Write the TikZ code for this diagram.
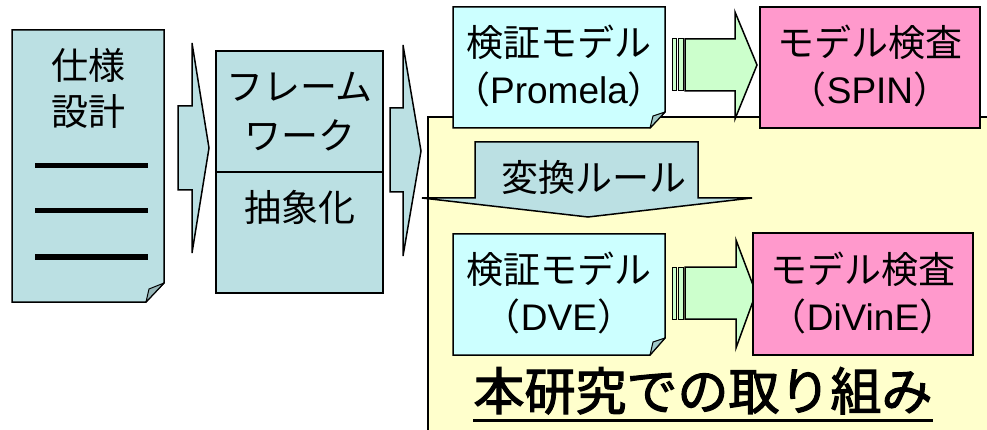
\documentclass[tikz,border=0pt]{standalone}
\usepackage{fontspec}
\setmainfont{Liberation Sans}
\newfontfamily\jp{Noto Sans CJK JP}
\newfontfamily\jpfb{Noto Sans CJK JP}[FakeBold=2.2]
\definecolor{docblue}{RGB}{187,224,227}
\definecolor{docfold}{RGB}{150,182,184}
\definecolor{cyanbox}{RGB}{204,255,255}
\definecolor{cyanfold}{RGB}{160,200,200}
\definecolor{pinkbox}{RGB}{255,153,204}
\definecolor{greenarr}{RGB}{204,255,204}
\definecolor{yellowbg}{RGB}{255,255,204}
\begin{document}
\begin{tikzpicture}[x=1pt,y=-1pt,
  shp/.style={draw=black,line width=1.5pt,line join=miter},
  flap/.style={draw=black,line width=1pt,line join=round},
  stripe/.style={draw=black,line width=1pt,fill=greenarr},
  jtxt/.style={anchor=base,inner sep=0pt,font=\jp\fontsize{37}{37}\selectfont},
  ltxt/.style={anchor=base,inner sep=0pt,font=\fontsize{37}{37}\selectfont},
]
\useasboundingbox (0,0) rectangle (987,430);
\clip (0,0) rectangle (987,430);
% background region
\draw[fill=yellowbg,draw=black,line width=1.2pt] (428,117) rectangle (1000,445);
% specification document
\draw[shp,fill=docblue] (12,30) -- (164,30) -- (164,283) -- (146,302) -- (12,302) -- cycle;
\draw[flap,fill=docfold] (164,283) -- (149,289) -- (146,302) -- cycle;
\draw[line width=5pt] (35,166) -- (148,166);
\draw[line width=5pt] (35,211) -- (148,211);
\draw[line width=5pt] (35,257) -- (148,257);
\node[jtxt] (t1a) at (88,80) {仕様};
\node[jtxt] (t1b) at (88,126) {設計};
% arrow 1
\draw[shp,fill=docblue] (178,106) -- (192,106) -- (192,43) -- (209,148) -- (192,253) -- (192,190) -- (178,190) -- cycle;
% framework
\draw[shp,fill=docblue] (216,51) rectangle (383,293);
\draw[shp] (216,172) -- (383,172);
\node[jtxt] (fw1) at (299.5,101) {フレーム};
\node[jtxt] (fw2) at (299.5,150) {ワーク};
\node[jtxt] (abs) at (299.5,222) {抽象化};
% arrow 2
\draw[shp,fill=docblue] (390,108) -- (403,108) -- (403,45) -- (421,151) -- (403,256) -- (403,192) -- (390,192) -- cycle;
% Promela model
\draw[shp,fill=cyanbox] (453,7) -- (665,7) -- (665,112) -- (650,128) -- (453,128) -- cycle;
\draw[flap,fill=cyanfold] (665,112) -- (653,116) -- (650,128) -- cycle;
\node[jtxt] (pm1) at (559,57) {検証モデル};
\node[ltxt] (pm2) at (559,104) {{\jp （}Promela{\jp ）}};
% green arrow top
\draw[stripe] (672.5,39) rectangle (676.5,91);
\draw[stripe] (678.5,39) rectangle (683,91);
\draw[shp,fill=greenarr] (685,39) -- (735,39) -- (735,12) -- (757,65) -- (735,119) -- (735,91) -- (685,91) -- cycle;
% SPIN
\draw[shp,fill=pinkbox] (760,7) rectangle (980,128);
\node[jtxt] (sp1) at (870,57) {モデル検査};
\node[ltxt] (sp2) at (870,104) {{\jp （}SPIN{\jp ）}};
% transformation rule arrow
\draw[shp,fill=docblue] (475,142) -- (698,142) -- (698,198) -- (752,198) -- (588,217) -- (422,198) -- (475,198) -- cycle;
\node[jtxt] (rule) at (594,192) {変換ルール};
% DVE model
\draw[shp,fill=cyanbox] (453,234) -- (665,234) -- (665,338) -- (650,355) -- (453,355) -- cycle;
\draw[flap,fill=cyanfold] (665,338) -- (653,342) -- (650,355) -- cycle;
\node[jtxt] (dv1) at (559,283) {検証モデル};
\node[ltxt] (dv2) at (559,330) {{\jp （}DVE{\jp ）}};
% green arrow bottom
\draw[stripe] (672.5,267) rectangle (676.5,319);
\draw[stripe] (678.5,267) rectangle (683,319);
\draw[shp,fill=greenarr] (685,267) -- (736,267) -- (736,240) -- (756,293) -- (736,348) -- (736,319) -- (685,319) -- cycle;
% DiVinE
\draw[shp,fill=pinkbox] (753,233) rectangle (973,355);
\node[jtxt] (dn1) at (863,283) {モデル検査};
\node[ltxt] (dn2) at (863,330) {{\jp （}DiVinE{\jp ）}};
% title
\node[anchor=base,inner sep=0pt,font=\jpfb\fontsize{51}{51}\selectfont] (title) at (703,410) {本研究での取り組み};
\draw[line width=3pt] ([yshift=-10pt]title.base west) -- ([yshift=-10pt]title.base east);
\end{tikzpicture}
\end{document}
